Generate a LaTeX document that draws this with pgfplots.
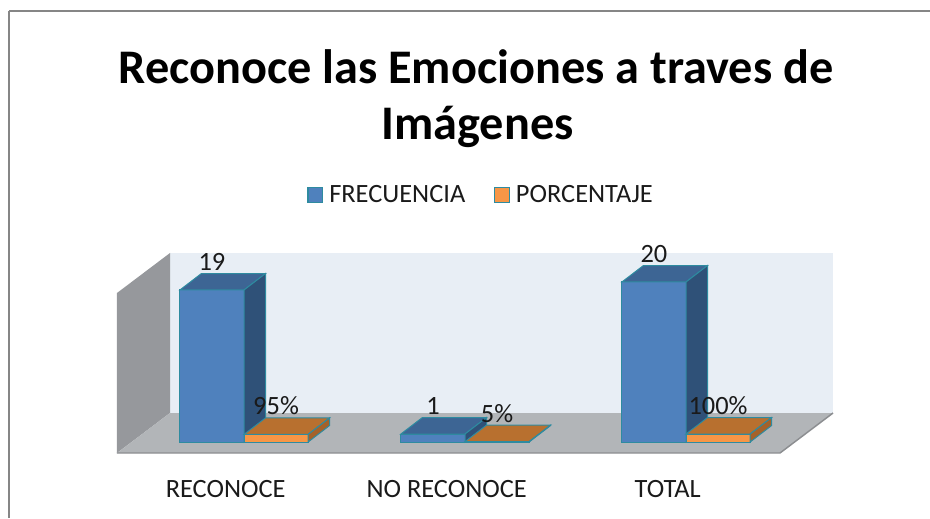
\documentclass[border=0pt]{standalone}
\usepackage{fontspec}
\setmainfont{Carlito}
\usepackage{pgfplots}
\usepackage{pgfplotstable}
\pgfplotsset{compat=1.18}
\pgfplotsset{/pgf/number format/assume math mode=true}
\definecolor{bfront}{HTML}{4F81BD}
\definecolor{btop}{HTML}{3D6594}
\definecolor{bside}{HTML}{2F5178}
\definecolor{ofront}{HTML}{F79646}
\definecolor{otop}{HTML}{B8702F}
\definecolor{oside}{HTML}{A4622A}
\definecolor{edgec}{HTML}{2E8BA0}
\definecolor{wallback}{HTML}{E8EEF5}
\definecolor{wallside}{HTML}{96989C}
\definecolor{floorc}{HTML}{B2B5B8}
\definecolor{flooredge}{HTML}{8C8E91}
\definecolor{framegray}{HTML}{868686}
\definecolor{textc}{HTML}{1A1A1A}

\pgfplotstableread{
c freq pct
0 19 95
1 1 5
2 20 100
}\datatable

\pgfplotsset{sqlegend/.style={legend image code/.code={\draw[##1] (0pt,-5.5pt) rectangle (11pt,5.5pt);}}}

\newcommand{\dx}{0.0973}
\newcommand{\dy}{2.06}
\newcommand{\bw}{0.29}

\begin{document}
\begin{tikzpicture}[x=0.75pt,y=0.75pt]
\useasboundingbox (0,0) rectangle (930,518);
\draw[framegray, line width=1.1pt] (9,0) -- (9,507);
\draw[framegray, line width=1.1pt] (9,507) -- (930,507);
\node[font=\bfseries\fontsize{36.2}{42}\selectfont, anchor=base, inner sep=0pt] at (476,434) {Reconoce las Emociones a traves de};
\node[font=\bfseries\fontsize{36.2}{42}\selectfont, anchor=base, inner sep=0pt] at (477.5,378) {Imágenes};
\begin{axis}[
  x=165.75pt, y=6pt,
  xmin=-0.6516, xmax=2.7873, ymin=-4.75, ymax=30.25,
  at={(75pt,28.5pt)}, anchor=south west,
  axis line style={draw=none},
  ytick=\empty,
  xtick={-0.083,0.917,1.917},
  xticklabels={RECONOCE,NO RECONOCE,TOTAL},
  major tick length=0pt,
  xticklabel style={font=\fontsize{19.8}{24}\selectfont, text=textc, inner sep=0pt},
  clip=false,
  legend style={draw=none, fill=none, legend columns=-1,
    at={(0.2724,1.0179)}, anchor=west, inner sep=0pt,
    font=\fontsize{19.8}{24}\selectfont, text=textc,
    nodes={inner sep=0pt},
    /tikz/every odd column/.append style={column sep=4.5pt},
    /tikz/every even column/.append style={column sep=21.5pt}},
]
\addlegendimage{sqlegend, fill=bfront, draw=edgec, line width=1pt}
\addlegendentry{FRECUENCIA}
\addlegendimage{sqlegend, fill=ofront, draw=edgec, line width=1pt}
\addlegendentry{PORCENTAJE}

% walls and floor
\addplot[fill=wallback, draw=none, forget plot] coordinates {(-0.3348,3.625) (2.6652,3.625) (2.6652,23.625) (-0.3348,23.625)} --cycle;
\addplot[fill=wallside, draw=none, forget plot] coordinates {(-0.5747,-1.375) (-0.5747,18.625) (-0.3348,23.625) (-0.3348,3.625)} --cycle;
\addplot[fill=floorc, draw=none, forget plot] coordinates {(-0.5747,-1.375) (2.4253,-1.375) (2.6652,3.625) (-0.3348,3.625)} --cycle;
\addplot[draw=flooredge, line width=1.1pt, forget plot] coordinates {(-0.5747,-1.375) (2.4253,-1.375) (2.6652,3.625)};

% blue bars
\addplot[ybar, bar width=\bw, bar shift=-0.145, fill=bfront, draw=edgec, line width=0.75pt, forget plot] table[x=c, y=freq] {\datatable};
\pgfplotsinvokeforeach{0,1,2}{
  \pgfplotstablegetelem{#1}{freq}\of\datatable
  \edef\vf{\pgfplotsretval}
  \pgfmathsetmacro\xa{#1-\bw}
  \pgfmathsetmacro\xb{#1}
  \pgfmathsetmacro\xc{#1+\dx}
  \pgfmathsetmacro\xd{#1-\bw+\dx}
  \pgfmathsetmacro\yb{\vf+\dy}
  \edef\tmp{\noexpand\addplot[fill=btop, draw=edgec, line width=0.75pt, forget plot] coordinates {(\xa,\vf) (\xb,\vf) (\xc,\yb) (\xd,\yb)} --cycle;}
  \tmp
  \edef\tmp{\noexpand\addplot[fill=bside, draw=edgec, line width=0.75pt, forget plot] coordinates {(\xb,0) (\xc,\dy) (\xc,\yb) (\xb,\vf)} --cycle;}
  \tmp
}
% orange bars
\addplot[ybar, bar width=\bw, bar shift=0.145, fill=ofront, draw=edgec, line width=0.75pt, forget plot] table[x=c, y expr=\thisrow{pct}/100] {\datatable};
\pgfplotsinvokeforeach{0,1,2}{
  \pgfplotstablegetelem{#1}{pct}\of\datatable
  \pgfmathsetmacro\vf{\pgfplotsretval/100}
  \pgfmathsetmacro\xa{#1}
  \pgfmathsetmacro\xb{#1+\bw}
  \pgfmathsetmacro\xc{#1+\bw+\dx}
  \pgfmathsetmacro\xd{#1+\dx}
  \pgfmathsetmacro\yb{\vf+\dy}
  \edef\tmp{\noexpand\addplot[fill=otop, draw=edgec, line width=0.75pt, forget plot] coordinates {(\xa,\vf) (\xb,\vf) (\xc,\yb) (\xd,\yb)} --cycle;}
  \tmp
  \edef\tmp{\noexpand\addplot[fill=oside, draw=edgec, line width=0.75pt, forget plot] coordinates {(\xb,0) (\xc,\dy) (\xc,\yb) (\xb,\vf)} --cycle;}
  \tmp
}
% value labels
\addplot[draw=none, mark=none, forget plot, nodes near coords, point meta=explicit,
  nodes near coords style={anchor=base, font=\fontsize{19.8}{24}\selectfont, text=textc, inner sep=0pt, yshift=2.2pt}]
  table[x expr=\thisrow{c}-0.145, y expr=\thisrow{freq}+\dy, meta=freq] {\datatable};
\addplot[draw=none, mark=none, forget plot, nodes near coords={\pgfmathprintnumber{\pgfplotspointmeta}\%}, point meta=explicit,
  nodes near coords style={anchor=base, font=\fontsize{19.8}{24}\selectfont, text=textc, inner sep=0pt, yshift=2.2pt}]
  table[x expr=\thisrow{c}+0.145, y expr=\thisrow{pct}/100+\dy, meta=pct] {\datatable};
\end{axis}
\end{tikzpicture}
\end{document}
